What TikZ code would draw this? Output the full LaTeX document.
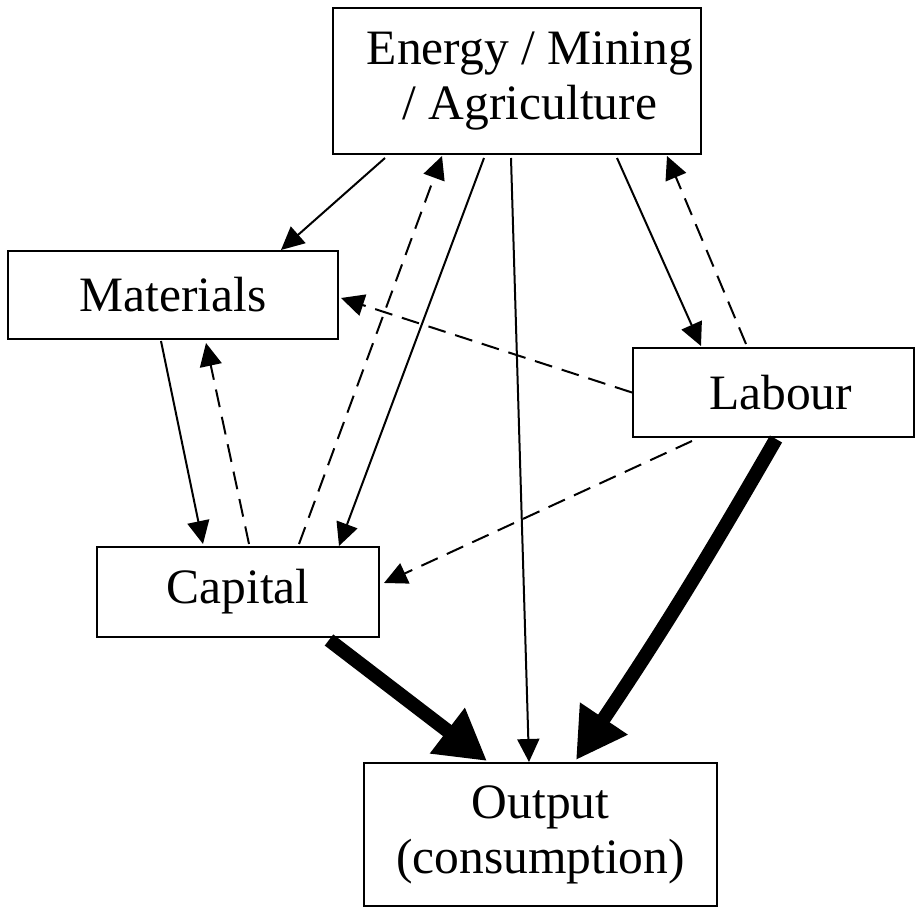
\documentclass[tikz,border=0pt]{standalone}
\usepackage{fontspec}
\setmainfont{Liberation Serif}
\usetikzlibrary{arrows.meta,calc}

\begin{document}
\begin{tikzpicture}[x=0.5pt, y=-0.5pt, line width=1pt,
  box/.style={draw, rectangle, inner sep=0pt, align=center,
    font=\fontsize{24.75pt}{27.5pt}\selectfont},
  flow/.style={-{Triangle[length=11.5pt, width=11pt]}},
  back/.style={flow, dash pattern=on 9pt off 5pt},
  main/.style={line width=7pt, -{Triangle[length=25pt, width=27pt]}}]
  \useasboundingbox (0,0) rectangle (916,909);
  % sectors
  \node[box, minimum width=184pt, minimum height=73pt] (energy) at (517,81)
    {\hspace*{13pt}Energy / Mining\\\hspace*{13pt}/ Agriculture};
  \node[box, minimum width=165pt, minimum height=44pt] (materials) at (173,295) {Materials};
  \node[box, minimum width=140.5pt, minimum height=44.5pt] (labour) at (773.5,392.5) {\hspace*{7pt}Labour};
  \node[box, minimum width=141pt, minimum height=45pt] (capital) at (238,592) {Capital};
  \node[box, minimum width=176.5pt, minimum height=71.5pt] (output) at (540.5,834.5) {Output\\(consumption)};
  % solid flows
  \draw[flow] ($(energy.south west)+(53,3)$) -- ($(materials.north west)+(274,0)$);
  \draw[flow] ($(energy.south west)+(152,3)$) -- ($(capital.north west)+(243,0)$);
  \draw[flow] ($(energy.south west)+(179,3)$) -- ($(output.north west)+(166,0)$);
  \draw[flow] ($(energy.south west)+(285,3)$) -- ($(labour.north west)+(69,-1)$);
  \draw[flow] ($(materials.south west)+(154,1)$) -- ($(capital.north west)+(107,-2)$);
  % dashed flows
  \draw[back] ($(capital.north west)+(203,-2)$) -- ($(energy.south west)+(110,1)$);
  \draw[back] ($(labour.north west)+(114,-3)$) -- ($(energy.south west)+(335,1)$);
  \draw[back] (labour.west) -- ($(materials.east)+(2,3)$);
  \draw[back] ($(capital.north west)+(153,-2)$) -- ($(materials.south west)+(199,3)$);
  \draw[back] ($(labour.south west)+(60,3)$) -- ($(capital.east)+(4,-9)$);
  % main flows
  \draw[main] ($(capital.south west)+(233,2)$) -- ($(output.north west)+(124,-1)$);
  \draw[main] ($(labour.south west)+(144,1)$) to[bend left=2] ($(output.north west)+(213,-2)$);
\end{tikzpicture}
\end{document}
